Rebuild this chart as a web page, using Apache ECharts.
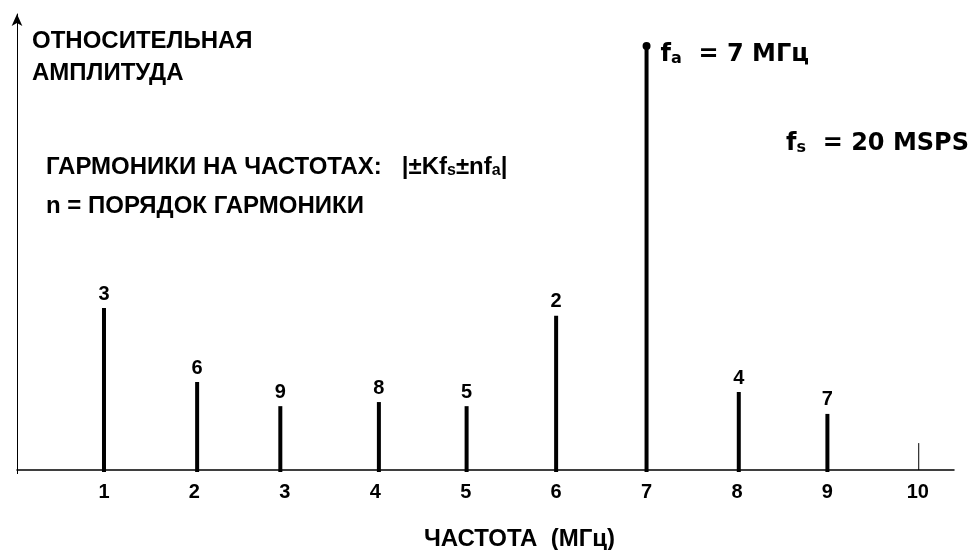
<!DOCTYPE html>
<html><head><meta charset="utf-8">
<script src="https://cdn.jsdelivr.net/npm/echarts@6/dist/echarts.min.js"></script>
<style>html,body{margin:0;padding:0;background:#fff}#c{width:970px;height:550px}</style>
</head><body><div id="c"></div>
<script>
// ---- data ----
var freqs = [1.0, 2.03, 2.95, 4.04, 5.01, 6.0, 7.0, 8.02, 9.0, 10.01];     // MHz position of each spectral line
var amplitudes = [35.5, 19.3, 14.0, 14.9, 14.0, 33.8, 93.0, 17.1, 12.3, 5.9]; // relative amplitude
var harmonicOrder = ['3', '6', '9', '8', '5', '2', '', '4', '7', ''];       // harmonic order labels
var tickLabels = [1, 2, 3, 4, 5, 6, 7, 8, 9, 10];
var fundamentalIndex = 6;

var FONT = 'Liberation Sans, Arial, sans-serif';
var WIDE = 'DejaVu Sans, sans-serif';
var X_MIN = 0.038, X_MAX = 10.4;
var stems = freqs.map(function (f, i) { return [f, amplitudes[i], harmonicOrder[i]]; });

var chart = echarts.init(document.getElementById('c'), null, {renderer: 'canvas'});
chart.setOption({
  backgroundColor: '#fff',
  animation: false,
  grid: {left: 17, right: 16, top: 14, bottom: 80, containLabel: false, outerBoundsMode: 'none'},
  xAxis: {
    type: 'value', min: X_MIN, max: X_MAX,
    axisLine: {show: true, onZero: false, lineStyle: {color: '#000', width: 1.5}},
    axisTick: {show: true, customValues: [X_MIN], length: 4, lineStyle: {color: '#000', width: 1}},
    axisLabel: {customValues: tickLabels, color: '#000', fontFamily: FONT, fontWeight: 'bold', fontSize: 20, margin: 12},
    splitLine: {show: false},
    name: 'ЧАСТОТА  (МГц)', nameLocation: 'middle', nameGap: 57,
    nameTextStyle: {color: '#000', fontFamily: FONT, fontWeight: 'bold', fontSize: 24, padding: [0, 0, 0, 68]}
  },
  yAxis: {
    type: 'value', min: 0, max: 100,
    axisLine: {show: true, onZero: false, symbol: ['none', 'arrow'], symbolSize: [8, 12], lineStyle: {color: '#000', width: 1}},
    axisTick: {show: false}, axisLabel: {show: false}, splitLine: {show: false}
  },
  series: [
    {
      type: 'custom',
      data: stems,
      renderItem: function (params, api) {
        var x = api.value(0), y = api.value(1);
        var p0 = api.coord([x, 0]), p1 = api.coord([x, y]);
        var thin = params.dataIndex === stems.length - 1;
        return {
          type: 'line',
          shape: {x1: p0[0], y1: p0[1] + (thin ? 0 : 2), x2: p1[0], y2: p1[1]},
          style: {stroke: '#000', lineWidth: thin ? 1 : 4},
          textContent: {style: {text: stems[params.dataIndex][2], fill: '#000', font: 'bold 20px ' + FONT}},
          textConfig: {position: 'top', distance: 2}
        };
      }
    },
    {
      type: 'scatter',
      data: [[freqs[fundamentalIndex], amplitudes[fundamentalIndex]]],
      symbol: 'circle', symbolSize: 8,
      itemStyle: {color: '#000', opacity: 1},
      label: {
        show: true, position: 'right', distance: 10, offset: [0, 9], color: '#000',
        formatter: '{m|f}{s|a}{m|  = 7 МГц}',
        rich: {
          m: {color: '#000', fontFamily: WIDE, fontWeight: 'bold', fontSize: 24, lineHeight: 24},
          s: {color: '#000', fontFamily: WIDE, fontWeight: 'bold', fontSize: 16, lineHeight: 10, verticalAlign: 'bottom'}
        }
      }
    }
  ],
  graphic: [
    {type: 'text', left: 32, top: 25, style: {text: 'ОТНОСИТЕЛЬНАЯ\nАМПЛИТУДА', fill: '#000', font: 'bold 24px ' + FONT, lineHeight: 32}},
    {type: 'text', left: 46, top: 155, style: {
      text: '{m|ГАРМОНИКИ НА ЧАСТОТАХ:   |±Kf}{s|s}{m|±nf}{s|a}{m||}',
      rich: {
        m: {fill: '#000', font: 'bold 24px ' + FONT, lineHeight: 24},
        s: {fill: '#000', font: 'bold 16px ' + FONT, lineHeight: 10, verticalAlign: 'bottom'}
      }
    }},
    {type: 'text', left: 46, top: 194, style: {text: 'n = ПОРЯДОК ГАРМОНИКИ', fill: '#000', font: 'bold 24px ' + FONT}},
    {type: 'text', left: 786, top: 132, style: {
      text: '{m|f}{s|s}{m|  = 20 MSPS}',
      rich: {
        m: {fill: '#000', font: 'bold 24px ' + WIDE, lineHeight: 24},
        s: {fill: '#000', font: 'bold 16px ' + WIDE, lineHeight: 10, verticalAlign: 'bottom'}
      }
    }}
  ]
});
</script></body></html>
